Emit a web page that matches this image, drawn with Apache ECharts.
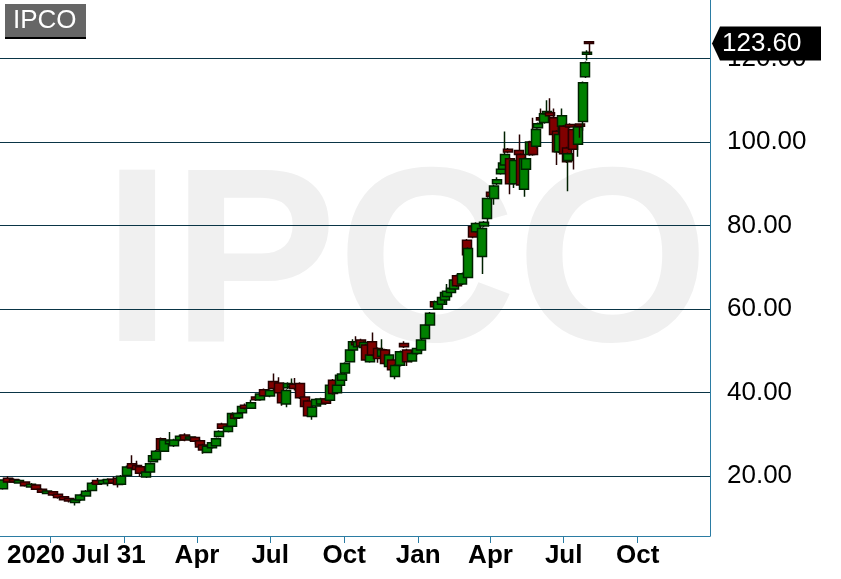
<!DOCTYPE html>
<html><head><meta charset="utf-8">
<script src="https://cdn.jsdelivr.net/npm/echarts@6/dist/echarts.min.js"></script>
<style>html,body{margin:0;padding:0;background:#fff}#c{width:841px;height:579px}</style>
</head><body><div id="c"></div>
<script>
const symbolName = 'IPCO';
const lastPrice = 123.60;
const startLabel = '2020 Jul 31';
const yTicks = [20, 40, 60, 80, 100, 120];
const xTickDates = ['2020-10-01','2021-01-01','2021-04-01','2021-07-01','2021-10-01','2022-01-01','2022-04-01','2022-07-01','2022-10-01'];
const xLabelDates = ['2021-04-01','2021-07-01','2021-10-01','2022-01-01','2022-04-01','2022-07-01','2022-10-01'];
const xLabelTexts = ['Apr','Jul','Oct','Jan','Apr','Jul','Oct'];
const axisRange = ['2020-07-30', '2022-12-30'];
// [date, open, close, low, high]
const ohlc = [
['2020-08-03',17.0,19.1,16.8,19.3],['2020-08-09',19.5,18.6,18.4,20.0],['2020-08-16',19.2,18.6,18.4,19.5],
['2020-08-23',18.4,19.0,18.2,19.3],['2020-08-30',18.6,17.7,17.5,18.8],['2020-09-07',17.4,18.1,17.2,18.4],
['2020-09-13',17.9,16.9,16.7,18.1],['2020-09-20',16.9,16.2,16.0,17.1],['2020-09-26',15.9,16.5,15.7,16.8],
['2020-10-04',16.3,15.5,15.3,16.5],['2020-10-10',15.7,14.9,14.6,15.9],['2020-10-18',15.1,14.4,14.2,15.3],
['2020-10-24',14.7,14.1,13.7,14.9],['2020-10-31',13.7,14.4,13.0,14.7],['2020-11-07',14.3,15.5,14.1,15.8],
['2020-11-14',15.3,16.4,15.1,16.7],['2020-11-21',16.6,18.3,16.4,18.6],['2020-11-28',19.0,18.1,17.9,19.6],
['2020-12-05',18.2,19.0,18.0,19.3],['2020-12-11',18.3,19.2,17.6,19.5],['2020-12-18',19.3,18.4,18.0,19.9],
['2020-12-24',19.5,18.0,17.3,19.9],['2020-12-27',18.1,20.0,17.9,20.3],['2021-01-04',20.2,22.2,20.0,22.6],
['2021-01-10',23.0,22.0,21.8,25.0],['2021-01-16',22.6,21.6,21.4,23.7],['2021-01-20',22.3,20.7,19.9,22.5],
['2021-01-28',19.8,21.0,19.6,21.3],['2021-02-02',21.0,23.0,20.8,23.3],['2021-02-05',23.5,24.9,23.3,25.2],
['2021-02-09',24.0,26.0,23.8,26.3],['2021-02-15',29.0,26.3,26.0,29.3],['2021-02-19',26.0,28.7,25.8,29.0],
['2021-02-26',27.8,28.5,27.3,30.6],['2021-03-03',27.3,28.7,27.0,29.0],['2021-03-11',28.7,29.6,28.4,30.0],
['2021-03-17',29.9,28.7,28.4,30.3],['2021-03-23',28.9,29.4,28.5,29.8],['2021-03-30',29.3,28.4,27.6,29.6],
['2021-04-05',28.5,27.0,26.8,28.8],['2021-04-08',27.5,26.3,25.4,27.8],['2021-04-13',25.7,27.2,25.5,27.4],
['2021-04-20',26.8,28.0,26.6,28.3],['2021-04-25',27.3,29.0,27.1,29.3],['2021-04-28',29.5,30.7,29.3,31.0],
['2021-05-02',32.5,31.5,31.3,32.8],['2021-05-10',30.7,31.9,30.5,32.2],['2021-05-15',32.0,35.0,31.8,35.3],
['2021-05-18',34.7,33.9,33.6,35.0],['2021-05-22',34.0,35.0,33.8,35.3],['2021-05-27',35.2,36.7,35.0,37.0],
['2021-05-31',37.0,36.3,36.0,37.4],['2021-06-07',36.3,37.6,36.1,38.3],['2021-06-13',39.0,38.3,38.0,39.3],
['2021-06-18',38.3,39.7,38.1,40.0],['2021-06-23',40.7,39.3,39.1,41.0],['2021-07-01',39.2,40.5,38.9,40.8],
['2021-07-05',42.7,41.0,40.6,44.6],['2021-07-12',42.3,40.0,39.7,43.7],['2021-07-16',40.0,37.6,36.9,40.3],
['2021-07-21',37.3,40.5,36.5,40.8],['2021-07-23',41.2,42.2,40.9,42.5],['2021-07-28',41.4,42.0,41.2,43.4],
['2021-07-31',42.0,41.0,40.5,43.5],['2021-08-07',42.2,38.8,38.5,42.5],['2021-08-13',39.0,36.7,36.4,39.3],
['2021-08-17',38.0,34.5,34.2,38.3],['2021-08-22',34.3,36.5,33.5,36.8],['2021-08-27',36.8,38.4,36.5,38.7],
['2021-09-02',37.3,38.5,37.0,38.8],['2021-09-08',38.5,37.5,37.2,38.8],['2021-09-13',38.2,41.8,37.9,42.1],
['2021-09-17',43.0,39.8,39.5,43.3],['2021-09-22',40.0,41.8,39.7,42.1],['2021-09-26',41.8,44.2,41.6,44.5],
['2021-09-28',43.0,44.5,42.8,44.8],['2021-10-02',44.7,47.0,44.5,47.3],['2021-10-08',47.4,50.2,47.2,50.5],
['2021-10-12',50.2,52.2,50.0,52.8],['2021-10-16',52.0,51.5,51.2,53.5],['2021-10-18',51.0,52.2,50.8,52.5],
['2021-10-22',52.6,51.2,50.9,52.9],['2021-10-26',50.8,52.0,50.5,52.3],['2021-10-28',51.4,47.8,47.5,51.7],
['2021-11-02',47.4,49.0,47.2,49.3],['2021-11-05',52.2,49.0,48.7,54.4],['2021-11-12',50.6,48.2,47.2,50.9],
['2021-11-17',48.7,50.3,48.4,52.8],['2021-11-21',50.2,47.0,46.7,50.5],['2021-11-26',46.3,49.0,46.0,49.3],
['2021-11-30',47.8,45.5,45.2,48.1],['2021-12-03',43.9,46.5,43.2,46.8],['2021-12-10',46.6,49.8,46.3,50.1],
['2021-12-14',51.8,51.0,50.7,52.3],['2021-12-18',50.2,47.4,46.4,50.5],['2021-12-24',47.6,49.4,47.3,49.7],
['2021-12-31',49.4,50.6,49.1,50.9],['2022-01-05',50.2,52.6,49.9,52.9],['2022-01-10',53.0,56.2,52.8,56.5],
['2022-01-16',56.2,59.0,56.0,59.3],['2022-01-22',61.8,60.6,60.3,62.1],['2022-01-26',60.0,61.8,59.8,62.1],
['2022-01-31',61.2,62.8,61.0,63.1],['2022-02-03',62.2,64.0,61.5,64.3],['2022-02-06',63.0,64.3,62.8,66.0],
['2022-02-11',64.0,65.0,63.8,65.3],['2022-02-15',64.8,67.0,64.6,67.3],['2022-02-18',68.0,65.6,65.3,68.3],
['2022-02-25',66.0,68.5,65.8,68.8],['2022-03-03',76.5,73.0,72.0,76.8],['2022-03-04',67.6,74.5,67.4,74.8],
['2022-03-10',79.8,77.3,77.0,80.1],['2022-03-14',78.5,80.5,78.3,80.8],['2022-03-22',72.6,79.3,68.4,79.6],
['2022-03-24',79.9,80.8,79.6,81.1],['2022-03-28',81.7,86.5,80.5,86.8],['2022-04-02',88.0,87.0,86.5,89.5],
['2022-04-05',86.5,89.5,85.0,89.8],['2022-04-09',90.0,91.0,89.7,91.6],['2022-04-14',92.4,93.5,92.2,94.0],
['2022-04-17',93.5,95.0,93.3,95.3],['2022-04-19',94.5,97.0,94.3,102.5],['2022-04-23',98.3,97.6,97.3,98.6],
['2022-04-25',96.0,90.0,87.5,96.3],['2022-04-30',90.0,95.6,89.0,96.0],['2022-05-07',98.0,97.0,96.7,101.8],
['2022-05-09',97.0,89.7,89.4,97.3],['2022-05-13',88.7,96.0,86.9,96.3],['2022-05-15',93.5,96.0,93.3,96.3],
['2022-05-20',97.0,100.0,96.7,100.3],['2022-05-24',100.0,97.0,96.7,105.8],['2022-05-28',99.0,103.0,98.5,103.3],
['2022-05-30',103.4,104.4,103.2,104.7],['2022-06-03',105.8,105.3,105.0,108.0],['2022-06-07',104.7,106.8,104.4,107.1],
['2022-06-10',106.8,107.3,106.6,110.0],['2022-06-14',107.0,106.3,106.0,110.5],['2022-06-19',105.8,101.8,101.5,108.0],
['2022-06-23',102.6,97.7,94.5,102.9],['2022-06-25',97.7,101.8,97.4,104.0],['2022-06-29',103.8,106.3,103.5,108.0],
['2022-07-01',103.8,97.2,96.9,104.1],['2022-07-05',98.6,95.3,95.0,98.9],['2022-07-06',95.6,97.2,88.2,97.5],
['2022-07-09',104.2,103.6,103.3,104.5],['2022-07-13',103.0,98.3,93.4,103.3],['2022-07-19',99.5,103.6,96.5,103.9],
['2022-07-21',104.3,103.8,101.0,104.5],['2022-07-25',104.9,114.2,102.7,114.5],['2022-07-28',115.6,119.0,115.3,119.3],
['2022-07-30',121.0,121.5,119.5,122.0],['2022-08-02',124.0,123.6,121.0,124.2]
];

const FONT = '"Liberation Sans", Arial, sans-serif';
const toTs = s => Date.parse(s + 'T00:00:00Z');
const labelMap = {};
xLabelDates.forEach((d, i) => { labelMap[toTs(d)] = xLabelTexts[i]; });
const axisColor = '#2b7ca3';
const gridColor = '#0a3546';

const chart = echarts.init(document.getElementById('c'), null, {renderer: 'canvas'});
chart.setOption({
  animation: false,
  backgroundColor: '#fff',
  grid: {left: 0, right: 131, top: 0, bottom: 43, containLabel: false},
  xAxis: {
    type: 'value', min: toTs(axisRange[0]), max: toTs(axisRange[1]),
    axisLine: {show: true, onZero: false, lineStyle: {color: axisColor, width: 1}},
    axisTick: {show: true, length: 7, customValues: xTickDates.map(toTs), lineStyle: {color: axisColor, width: 1}},
    axisLabel: {customValues: xLabelDates.map(toTs), formatter: v => labelMap[v] || '',
      fontFamily: FONT, fontSize: 26, fontWeight: 'bold', color: '#000', margin: 7},
    splitLine: {show: false}
  },
  yAxis: {
    type: 'value', position: 'right', min: 5.7, max: 134,
    axisLine: {show: true, lineStyle: {color: axisColor, width: 1}},
    axisTick: {show: false},
    axisLabel: {customValues: yTicks, formatter: v => Number(v).toFixed(2),
      fontFamily: FONT, fontSize: 26, color: '#000', margin: 17},
    splitLine: {show: false}
  },
  series: [{
    type: 'candlestick', z: 3, barWidth: 9.5,
    data: ohlc.map(r => [toTs(r[0]), r[1], r[2], r[3], r[4]]),
    itemStyle: {color: '#008000', color0: '#800000', borderColor: '#002000', borderColor0: '#260000', borderWidth: 1.5},
    markLine: {
      silent: true, symbol: 'none', z: 1, animation: false,
      label: {show: false}, emphasis: {disabled: true},
      lineStyle: {color: gridColor, width: 1.2, type: 'solid'},
      data: yTicks.map(v => ({yAxis: v}))
    }
  }],
  graphic: [
    {type: 'text', id: 'wm', x: 406, y: 273, z: 0, silent: true,
      style: {text: symbolName, fontFamily: FONT, fontSize: 248, fontWeight: 'bold', fill: '#f0f0f0', align: 'center', verticalAlign: 'middle'}},
    {type: 'rect', id: 'tbox', z: 100, shape: {x: 5, y: 4, width: 81, height: 33}, style: {fill: '#666666'}},
    {type: 'rect', id: 'tline', z: 100, shape: {x: 5, y: 37, width: 81, height: 2}, style: {fill: '#000'}},
    {type: 'text', id: 'ttext', x: 13, y: 21, z: 101,
      style: {text: symbolName, fontFamily: FONT, fontSize: 26, fill: '#fff', align: 'left', verticalAlign: 'middle'}},
    {type: 'text', id: 'startlbl', x: 7, y: 556, z: 100,
      style: {text: startLabel, fontFamily: FONT, fontSize: 26, fontWeight: 'bold', fill: '#000', align: 'left', verticalAlign: 'middle'}}
  ]
});

const py = chart.convertToPixel({yAxisIndex: 0}, lastPrice);
const px = chart.convertToPixel({xAxisIndex: 0}, toTs(axisRange[1]));
chart.setOption({
  graphic: [
    {type: 'polygon', id: 'pbox', z: 100,
      shape: {points: [[px + 2, py], [px + 10, py - 17], [px + 111, py - 17], [px + 111, py + 17], [px + 10, py + 17]]},
      style: {fill: '#000'}},
    {type: 'text', id: 'ptext', x: px + 12, y: py, z: 101,
      style: {text: lastPrice.toFixed(2), fontFamily: FONT, fontSize: 26, fill: '#fff', align: 'left', verticalAlign: 'middle'}}
  ]
});
</script></body></html>
